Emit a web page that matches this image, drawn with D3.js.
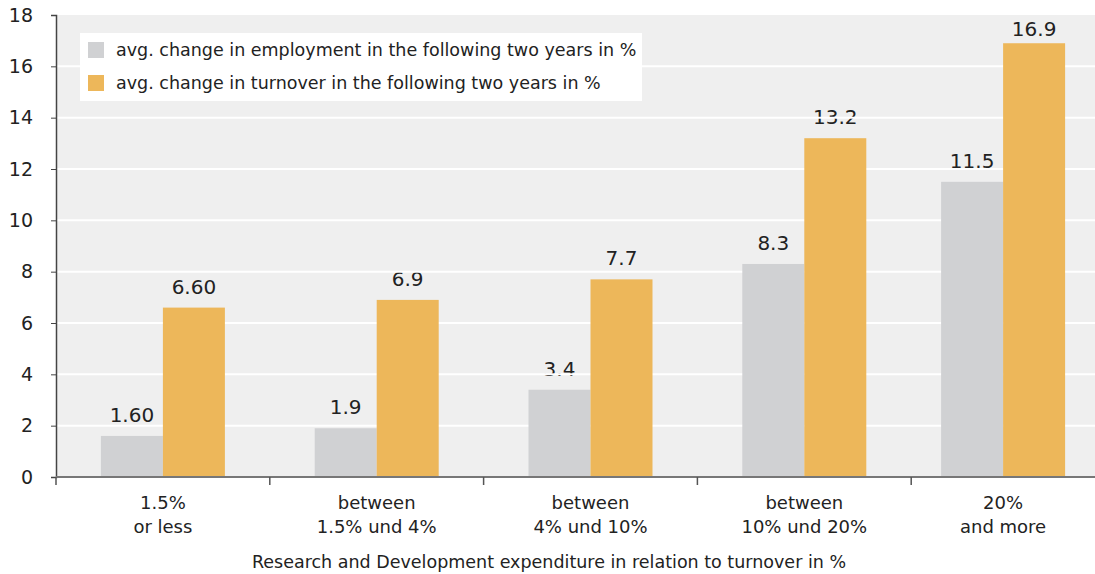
<!DOCTYPE html>
<html><head><meta charset="utf-8">
<script src="https://cdn.jsdelivr.net/npm/d3@7"></script>
<style>body{margin:0;background:#fff}svg{display:block}text{font-family:"DejaVu Sans",sans-serif;fill:#222}</style>
</head><body>
<script>
const categories = [["1.5%","or less"],["between","1.5% und 4%"],["between","4% und 10%"],["between","10% und 20%"],["20%","and more"]];
const employment = [1.6, 1.9, 3.4, 8.3, 11.5];
const turnover = [6.6, 6.9, 7.7, 13.2, 16.9];
const employmentLabels = ["1.60","1.9","3.4","8.3","11.5"];
const turnoverLabels = ["6.60","6.9","7.7","13.2","16.9"];
const yTicks = [0,2,4,6,8,10,12,14,16,18];
const seriesNames = ["avg. change in employment in the following two years in %","avg. change in turnover in the following two years in %"];
const colors = ["#d0d1d3","#edb75a"];
const xTitle = "Research and Development expenditure in relation to turnover in %";

(function(){
const W=1095,H=574, mL=56, mR=1095, mT=15, mB=477, bandW=213.8;
const svg=d3.select("body").append("svg").attr("width",W).attr("height",H);
const x=d3.scaleBand().domain(d3.range(categories.length)).range([mL,mL+bandW*categories.length]);
const y=d3.scaleLinear().domain([0,18]).range([mB,mT]);
const center=i=>(x(i)+Math.min(x(i)+x.bandwidth(),mR))/2;
const bw=62;
const ly=v=>Math.max(y(v)-14, mT+21);

svg.append("rect").attr("x",mL).attr("y",mT).attr("width",mR-mL).attr("height",mB-mT).attr("fill","#efefef");

const lab=svg.append("g").style("font-size","20px").attr("text-anchor","middle");
categories.forEach((c,i)=>{
  lab.append("text").attr("x",center(i)-bw/2).attr("y",ly(employment[i])).text(employmentLabels[i]);
  lab.append("text").attr("x",center(i)+bw/2).attr("y",ly(turnover[i])).text(turnoverLabels[i]);
});

svg.append("g").selectAll("line").data(yTicks.filter(d=>d>0&&d<18)).join("line")
  .attr("x1",mL).attr("x2",mR).attr("y1",d=>y(d)).attr("y2",d=>y(d)).attr("stroke","#fff").attr("stroke-width",2);

const g=svg.append("g");
categories.forEach((c,i)=>{
  g.append("rect").attr("x",center(i)-bw).attr("width",bw).attr("y",y(employment[i])).attr("height",y(0)-y(employment[i])).attr("fill",colors[0]);
  g.append("rect").attr("x",center(i)).attr("width",bw).attr("y",y(turnover[i])).attr("height",y(0)-y(turnover[i])).attr("fill",colors[1]);
});

const ya=svg.append("g").attr("transform",`translate(${mL},0)`).call(d3.axisLeft(y).tickValues(yTicks).tickSize(5).tickPadding(18));
ya.select(".domain").attr("stroke","#444").attr("stroke-width",1.5);
ya.selectAll(".tick line").attr("stroke","#444");
ya.selectAll("text").style("font-size","19px").style("font-family","DejaVu Sans, sans-serif").attr("fill","#222");

const xa=svg.append("g").attr("transform",`translate(0,${mB})`);
xa.append("line").attr("x1",mL).attr("x2",mR).attr("stroke","#777").attr("stroke-width",2);
xa.selectAll("line.t").data(d3.range(categories.length)).join("line").attr("class","t")
  .attr("x1",d=>x(d)).attr("x2",d=>x(d)).attr("y1",0).attr("y2",8).attr("stroke","#555").attr("stroke-width",1.5);
categories.forEach((c,i)=>{
  const t=xa.append("text").attr("text-anchor","middle").style("font-size","18px");
  c.forEach((s,k)=>t.append("tspan").attr("x",center(i)).attr("y",32+k*24).text(s));
});
svg.append("text").attr("x",549).attr("y",568).attr("text-anchor","middle").style("font-size","17.5px").text(xTitle);

const lg=svg.append("g");
lg.append("rect").attr("x",80).attr("y",33).attr("width",562).attr("height",68).attr("fill","#fff");
seriesNames.forEach((s,i)=>{
  lg.append("rect").attr("x",88).attr("y",42+i*33).attr("width",16).attr("height",16).attr("fill",colors[i]);
  lg.append("text").attr("x",116).attr("y",56+i*33).style("font-size","17.5px").text(s);
});
})();
</script>
</body></html>
